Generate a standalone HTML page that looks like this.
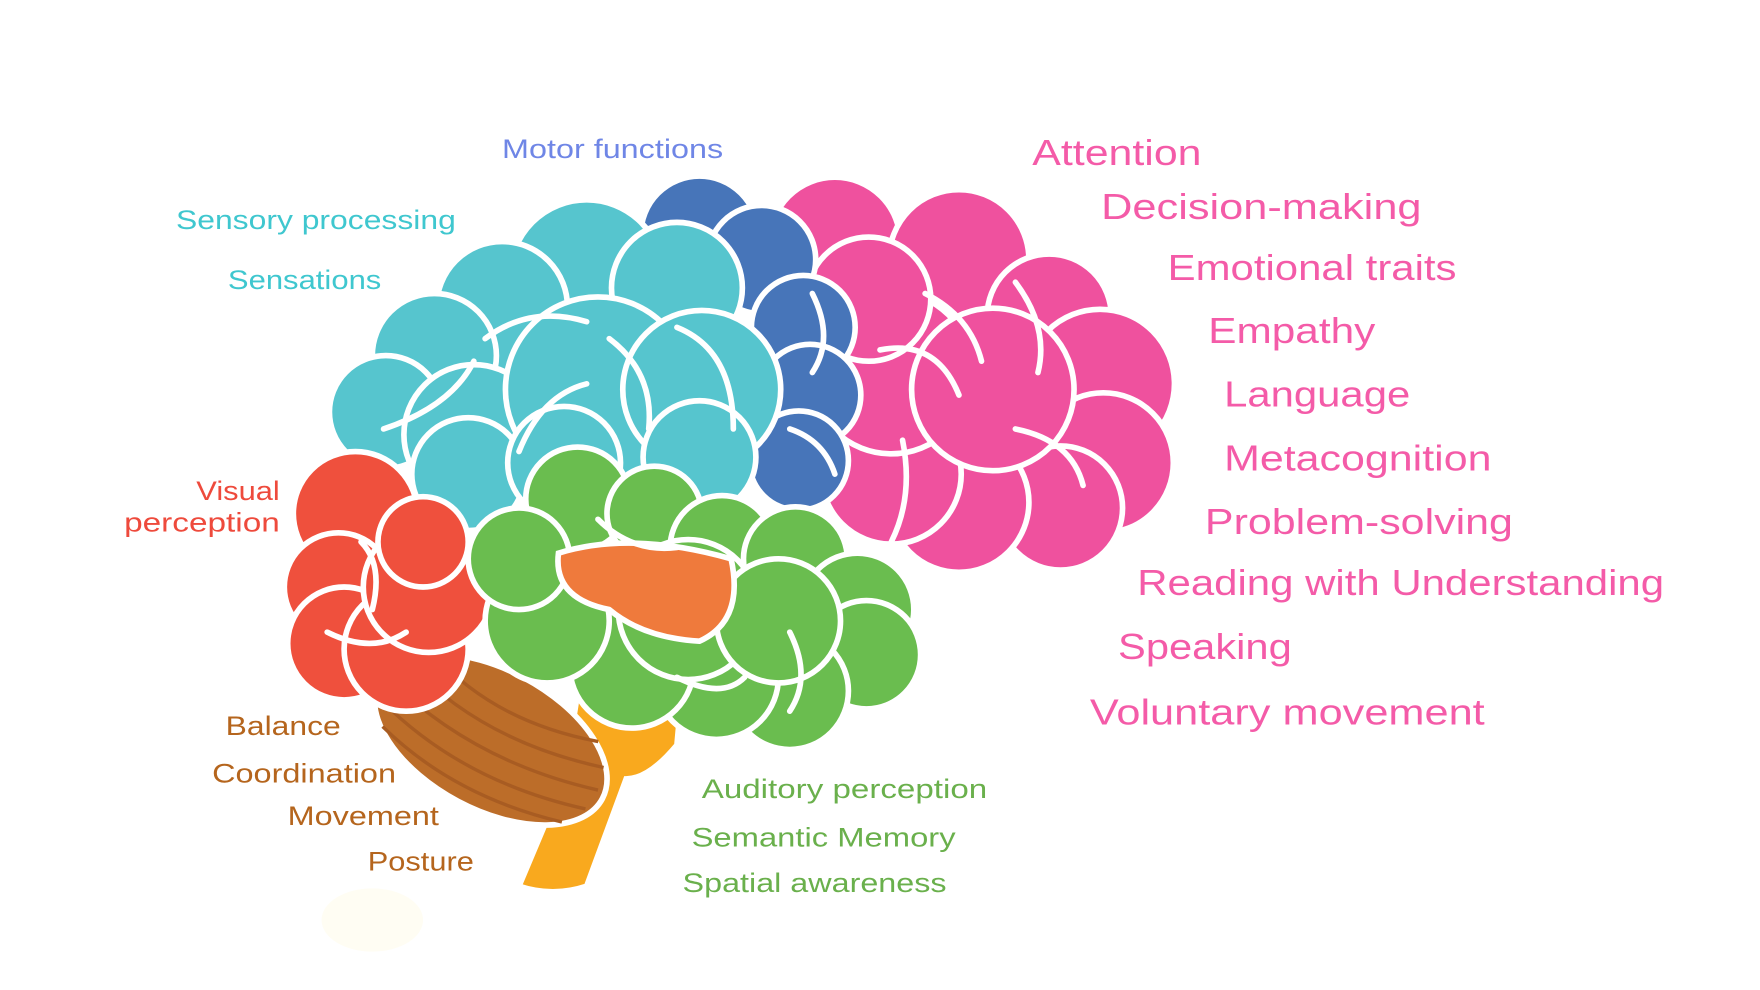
<!DOCTYPE html>
<html><head><meta charset="utf-8"><style>
html,body{margin:0;padding:0;background:#fff;width:1760px;height:990px;overflow:hidden}
svg{display:block}
text{font-family:"Liberation Sans",sans-serif}
</style></head><body>
<svg width="1760" height="990" viewBox="0 0 1560 877" preserveAspectRatio="none" xmlns="http://www.w3.org/2000/svg">
<rect width="1560" height="877" fill="#fff"/>
<ellipse cx="330" cy="815" rx="45" ry="28" fill="#fffdf3"/>
<!-- brainstem -->
<path d="M515,595 L605,605 L600,660 Q575,690 555,690 L520,785 Q490,795 460,785 L500,690 Z" fill="#f9a91e" stroke="#fff" stroke-width="5"/>
<!-- cerebellum -->
<g transform="rotate(28 435 655)">
<ellipse cx="435" cy="655" rx="112" ry="62" fill="#bc6d29" stroke="#fff" stroke-width="5"/>
<g stroke="#a85c22" stroke-width="3" fill="none">
<path d="M355,612 Q430,640 520,612"/><path d="M340,630 Q430,660 535,630"/><path d="M330,650 Q430,680 540,650"/><path d="M333,670 Q430,700 538,670"/><path d="M345,690 Q430,715 525,690"/></g>
</g>
<!-- pink -->
<g fill="#ef519e" stroke="#fff" stroke-width="5">
<circle cx="740" cy="215" r="58"/><circle cx="850" cy="230" r="62"/><circle cx="930" cy="280" r="55"/>
<circle cx="975" cy="340" r="66"/><circle cx="978" cy="410" r="62"/><circle cx="940" cy="450" r="55"/>
<circle cx="850" cy="445" r="62"/><circle cx="790" cy="420" r="62"/><circle cx="790" cy="330" r="72"/>
<circle cx="880" cy="345" r="72"/><circle cx="770" cy="265" r="55"/></g>
<!-- blue -->
<g fill="#4775b9" stroke="#fff" stroke-width="5">
<circle cx="620" cy="208" r="52"/><circle cx="675" cy="230" r="48"/><circle cx="712" cy="290" r="46"/>
<circle cx="718" cy="350" r="45"/><circle cx="708" cy="408" r="44"/></g>
<!-- cyan -->
<g fill="#56c5ce" stroke="#fff" stroke-width="5">
<circle cx="520" cy="245" r="68"/><circle cx="600" cy="255" r="58"/><circle cx="445" cy="272" r="58"/>
<circle cx="385" cy="315" r="55"/><circle cx="342" cy="365" r="50"/><circle cx="420" cy="385" r="62"/>
<circle cx="530" cy="345" r="82"/><circle cx="622" cy="345" r="70"/><circle cx="620" cy="405" r="50"/>
<circle cx="415" cy="420" r="50"/><circle cx="500" cy="410" r="50"/></g>
<!-- red -->
<g fill="#ef503d" stroke="#fff" stroke-width="5">
<circle cx="315" cy="455" r="55"/><circle cx="300" cy="520" r="48"/><circle cx="305" cy="570" r="50"/>
<circle cx="360" cy="575" r="55"/><circle cx="380" cy="520" r="58"/><circle cx="375" cy="480" r="40"/></g>
<!-- green -->
<g fill="#6abd4f" stroke="#fff" stroke-width="5">
<circle cx="512" cy="442" r="46"/><circle cx="580" cy="455" r="42"/><circle cx="640" cy="485" r="46"/>
<circle cx="705" cy="495" r="46"/><circle cx="760" cy="540" r="50"/><circle cx="768" cy="580" r="48"/>
<circle cx="700" cy="612" r="52"/><circle cx="635" cy="600" r="55"/><circle cx="560" cy="590" r="55"/>
<circle cx="485" cy="550" r="55"/><circle cx="460" cy="495" r="45"/><circle cx="610" cy="540" r="62"/>
<circle cx="690" cy="550" r="55"/></g>
<!-- orange -->
<path d="M495,490 Q560,470 648,495 Q660,550 620,568 Q570,565 540,540 Q490,530 495,490 Z" fill="#ef7a3c" stroke="#fff" stroke-width="5"/>
<!-- sulci -->
<g stroke="#fff" stroke-width="5" fill="none" stroke-linecap="round">
<path d="M340,380 Q400,360 420,320"/><path d="M430,300 Q470,270 520,285"/><path d="M540,300 Q580,330 575,380"/>
<path d="M460,400 Q480,350 520,340"/><path d="M600,290 Q650,310 650,380"/><path d="M820,260 Q860,280 870,320"/>
<path d="M780,310 Q830,300 850,350"/><path d="M900,380 Q950,390 960,430"/><path d="M800,390 Q810,440 790,480"/>
<path d="M720,260 Q740,300 720,330"/><path d="M700,380 Q730,390 740,420"/><path d="M320,480 Q340,500 330,540"/>
<path d="M290,560 Q330,580 360,560"/><path d="M530,460 Q560,490 600,485"/><path d="M700,560 Q720,600 700,630"/>
<path d="M600,600 Q640,620 660,600"/><path d="M900,250 Q930,290 920,330"/></g>
<!-- labels -->
<g font-size="24" lengthAdjust="spacingAndGlyphs">
<text x="445" y="140" fill="#6f86e6" textLength="196" lengthAdjust="spacingAndGlyphs">Motor functions</text>
<text x="156" y="203" fill="#3fc7cf" textLength="248" lengthAdjust="spacingAndGlyphs">Sensory processing</text>
<text x="202" y="256" fill="#3fc7cf" textLength="136" lengthAdjust="spacingAndGlyphs">Sensations</text>
<text x="174" y="443" fill="#ee4a3c" textLength="74" lengthAdjust="spacingAndGlyphs">Visual</text>
<text x="110" y="471" fill="#ee4a3c" textLength="138" lengthAdjust="spacingAndGlyphs">perception</text>
<text x="200" y="651" fill="#b5651d" textLength="102" lengthAdjust="spacingAndGlyphs">Balance</text>
<text x="188" y="693" fill="#b5651d" textLength="163" lengthAdjust="spacingAndGlyphs">Coordination</text>
<text x="255" y="731" fill="#b5651d" textLength="134" lengthAdjust="spacingAndGlyphs">Movement</text>
<text x="326" y="771" fill="#b5651d" textLength="94" lengthAdjust="spacingAndGlyphs">Posture</text>
<text x="622" y="707" fill="#6ab04c" textLength="253" lengthAdjust="spacingAndGlyphs">Auditory perception</text>
<text x="613" y="750" fill="#6ab04c" textLength="234" lengthAdjust="spacingAndGlyphs">Semantic Memory</text>
<text x="605" y="790" fill="#6ab04c" textLength="234" lengthAdjust="spacingAndGlyphs">Spatial awareness</text>
</g>
<g font-size="32" fill="#f45ba8">
<text x="915" y="146" textLength="150" lengthAdjust="spacingAndGlyphs">Attention</text>
<text x="976" y="194" textLength="284" lengthAdjust="spacingAndGlyphs">Decision-making</text>
<text x="1035" y="248" textLength="256" lengthAdjust="spacingAndGlyphs">Emotional traits</text>
<text x="1071" y="304" textLength="148" lengthAdjust="spacingAndGlyphs">Empathy</text>
<text x="1085" y="360" textLength="165" lengthAdjust="spacingAndGlyphs">Language</text>
<text x="1085" y="417" textLength="237" lengthAdjust="spacingAndGlyphs">Metacognition</text>
<text x="1068" y="473" textLength="273" lengthAdjust="spacingAndGlyphs">Problem-solving</text>
<text x="1008" y="527" textLength="467" lengthAdjust="spacingAndGlyphs">Reading with Understanding</text>
<text x="991" y="584" textLength="154" lengthAdjust="spacingAndGlyphs">Speaking</text>
<text x="966" y="642" textLength="350" lengthAdjust="spacingAndGlyphs">Voluntary movement</text>
</g>
</svg>
</body></html>
